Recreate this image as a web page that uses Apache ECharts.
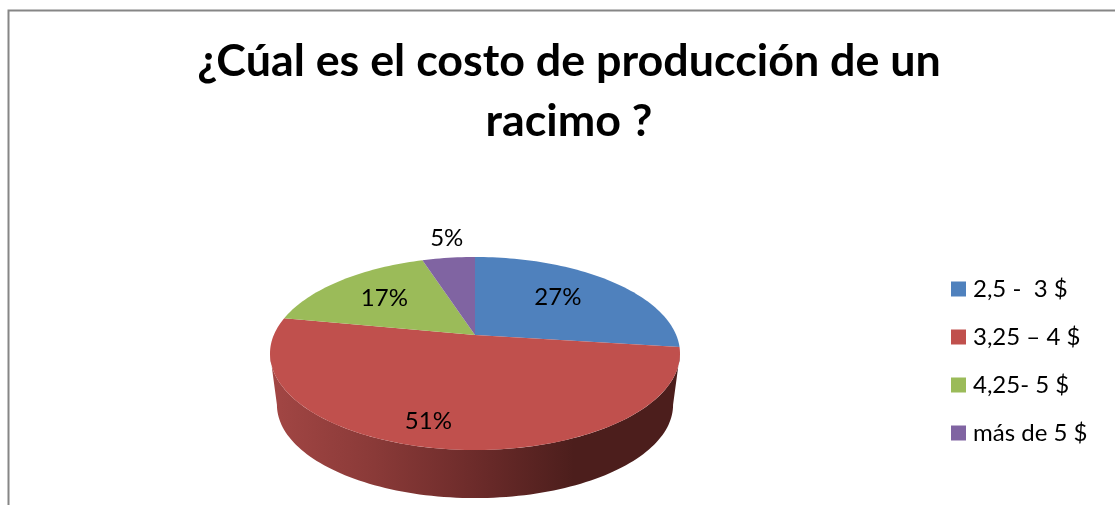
<!DOCTYPE html>
<html lang="es">
<head>
<meta charset="utf-8">
<title>Costo de producción de un racimo</title>
<style>
  html, body { margin: 0; padding: 0; background: #fff; }
  #chart { width: 1115px; height: 505px; }
</style>
<script src="https://cdn.jsdelivr.net/npm/echarts@6/dist/echarts.min.js"></script>
</head>
<body>
<div id="chart"></div>
<script>
// Chart content
const chartTitle = '¿Cúal es el costo de producción de un\nracimo ?';
const categories = ['2,5 -  3 $', '3,25 – 4 $', '4,25- 5 $', 'más de 5 $'];
const percentages = [27, 51, 17, 5];
const sliceColors = ['#4f81bd', '#c0504d', '#9bbb59', '#8064a2'];

// Projection of the pie disc: a unit circle seen in perspective, tilted back
const disc = { cx: 475, cy: 335, rx: 201.2, ry: 92.95, persp: 0.1917 };
// Lower rim of the extruded disc, slightly smaller because it sits further away
const rim = { cx: 475, cy: 387, rx: 194.4, ry: 89.8, persp: 0.1917 };

// Label placement per slice: radial factor, then a small pixel nudge
const labelPlacement = [
  { radius: 0.59, dx: 0, dy: -4 },
  { radius: 0.80, dx: -17, dy: 0 },
  { radius: 0.65, dx: 0, dy: 0 },
  { radius: 1.32, dx: 5, dy: 0 }
];

const total = percentages.reduce((a, b) => a + b, 0);

function sliceRange(index) {
  const before = percentages.slice(0, index).reduce((a, b) => a + b, 0);
  return [before / total * Math.PI * 2, (before + percentages[index]) / total * Math.PI * 2];
}

// Angle runs clockwise from twelve o'clock
function project(p, angle, radius) {
  const u = Math.sin(angle) * radius;
  const v = Math.cos(angle) * radius;
  const d = 1 + p.persp * v;
  return [p.cx + p.rx * u / d, p.cy - p.ry * v / d];
}

function arcPoints(p, from, to) {
  const steps = Math.max(2, Math.ceil((to - from) / (Math.PI / 120)));
  const pts = [];
  for (let i = 0; i <= steps; i++) {
    pts.push(project(p, from + (to - from) * i / steps, 1));
  }
  return pts;
}

// The wall is visible only between the two tangents of the disc outline
const wallFrom = Math.acos(-disc.persp);
const wallTo = Math.PI * 2 - wallFrom;

const wallFill = {
  type: 'linear', global: true, x: 272, y: 0, x2: 680, y2: 0,
  colorStops: [
    { offset: 0, color: '#a24644' },
    { offset: 0.25, color: '#8a3a38' },
    { offset: 0.5, color: '#6c2b2a' },
    { offset: 0.74, color: '#4c1e1c' },
    { offset: 1, color: '#4c1e1c' }
  ]
};

function renderSlice(params, api) {
  const index = params.seriesIndex;
  const value = api.value(0);
  const [start, end] = sliceRange(index);
  const children = [];

  const from = Math.max(start, wallFrom);
  const to = Math.min(end, wallTo);
  if (to > from) {
    const upper = arcPoints(disc, from, to);
    const lower = arcPoints(rim, from, to).reverse();
    children.push({
      type: 'polygon',
      z2: 1,
      shape: { points: upper.concat(lower) },
      style: { fill: wallFill }
    });
  }

  children.push({
    type: 'polygon',
    z2: 2,
    shape: { points: [[disc.cx, disc.cy]].concat(arcPoints(disc, start, end)) },
    style: { fill: sliceColors[index] }
  });

  const place = labelPlacement[index];
  const pos = project(disc, (start + end) / 2, place.radius);
  children.push({
    type: 'text',
    z2: 3,
    style: {
      text: value + '%',
      x: pos[0] + place.dx,
      y: pos[1] + place.dy,
      align: 'center',
      verticalAlign: 'middle',
      fill: '#000',
      font: '24px Lato'
    }
  });
  return { type: 'group', children };
}

const chart = echarts.init(document.getElementById('chart'), null, { renderer: 'canvas' });
chart.setOption({
  animation: false,
  backgroundColor: '#fff',
  title: {
    text: chartTitle,
    left: 564,
    top: 27,
    textAlign: 'center',
    textStyle: {
      fontFamily: 'Lato',
      fontWeight: 'bold',
      fontSize: 44.8,
      lineHeight: 60,
      color: '#000'
    }
  },
  legend: {
    orient: 'vertical',
    left: 951,
    top: 276,
    padding: 0,
    itemWidth: 15,
    itemHeight: 15,
    itemGap: 22,
    selectedMode: false,
    icon: 'rect',
    data: categories,
    textStyle: {
      fontFamily: 'Lato',
      fontSize: 24,
      lineHeight: 26,
      color: '#000',
      padding: [0, 0, 0, 2]
    }
  },
  graphic: [
    {
      type: 'polyline',
      silent: true,
      shape: { points: [[8.5, 505], [8.5, 10.5], [1115, 10.5]] },
      style: { stroke: '#868686', lineWidth: 2, fill: 'none' }
    }
  ],
  series: categories.map((name, i) => ({
    type: 'custom',
    name,
    coordinateSystem: 'none',
    silent: true,
    itemStyle: { color: sliceColors[i] },
    renderItem: renderSlice,
    data: [percentages[i]]
  }))
});
</script>
</body>
</html>
